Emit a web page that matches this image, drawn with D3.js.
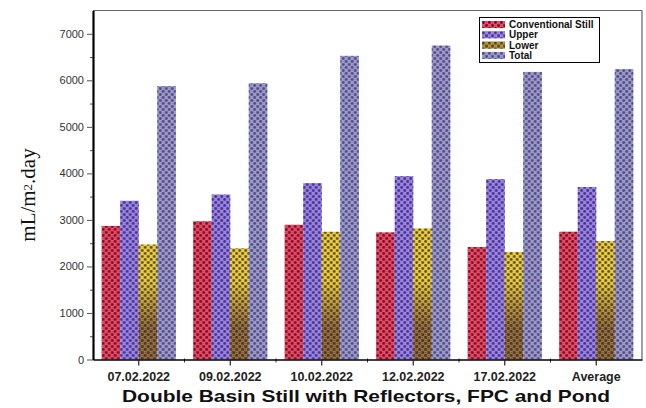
<!DOCTYPE html>
<html>
<head>
<meta charset="utf-8">
<script src="https://cdn.jsdelivr.net/npm/d3@7"></script>
<style>
  body { margin: 0; background: #fff; }
  svg { display: block; font-family: "Liberation Sans", Arial, sans-serif; }
</style>
</head>
<body>
<div id="chart"></div>
<script>
// dados do gráfico
const categorias = ["07.02.2022", "09.02.2022", "10.02.2022", "12.02.2022", "17.02.2022", "Average"];
const series = ["Conventional Still", "Upper", "Lower", "Total"];
const conventional = [2870, 2970, 2895, 2730, 2415, 2745];
const upper = [3410, 3545, 3790, 3940, 3875, 3705];
const lower = [2470, 2390, 2745, 2815, 2310, 2545];
const total = [5875, 5935, 6525, 6745, 6180, 6240];
const yTicks = [0, 1000, 2000, 3000, 4000, 5000, 6000, 7000];

const valores = [conventional, upper, lower, total];
const data = categorias.map((c, i) => ({
    cat: c,
    vals: series.map((s, j) => ({ serie: s, valor: valores[j][i] }))
}));

const W = 646, H = 408;
const margin = { top: 10.5, right: 4, bottom: 48.5, left: 93 };

const svg = d3.select("#chart")
    .append("svg")
    .attr("width", W)
    .attr("height", H);

// cores: base + pontos
const cores = {
    "Conventional Still": { base: "#e8374f", dot: "#4a0c2a", ring: "#ff7a8a" },
    "Upper": { base: "#9478d6", dot: "#2c2280", ring: "#b8a0f0" },
    "Lower": { base: "url(#gradLower)", dot: "#4a2c18", ring: "#f0e070" },
    "Total": { base: "#6f9bd8", dot: "#8a1e3e", ring: "#a6c4f0" }
};

const y = d3.scaleLinear()
    .domain([0, 7500])
    .range([H - margin.bottom, margin.top]);

const x = d3.scaleBand()
    .domain(categorias)
    .range([margin.left, W - margin.right])
    .paddingInner(0.19)
    .paddingOuter(0.095);

const xs = d3.scaleBand()
    .domain(series)
    .range([0, x.bandwidth()]);

const defs = svg.append("defs");

// gradiente amarelo -> castanho
const grad = defs.append("linearGradient")
    .attr("id", "gradLower")
    .attr("gradientUnits", "userSpaceOnUse")
    .attr("x1", 0).attr("x2", 0)
    .attr("y1", y(1700)).attr("y2", y(700));
grad.append("stop").attr("offset", "0%").attr("stop-color", "#e2ca34");
grad.append("stop").attr("offset", "100%").attr("stop-color", "#6e4b33");

// padrões de pontos
series.forEach((s, i) => {
    const p = defs.append("pattern")
        .attr("id", "pat" + i)
        .attr("patternUnits", "userSpaceOnUse")
        .attr("width", 6).attr("height", 6);
    [[1.5, 1.5], [4.5, 4.5]].forEach(c => {
        p.append("circle").attr("cx", c[0]).attr("cy", c[1]).attr("r", 1.4)
            .attr("fill", cores[s].dot).attr("opacity", 0.85);
    });
    [[4.5, 1.5], [1.5, 4.5]].forEach(c => {
        p.append("circle").attr("cx", c[0]).attr("cy", c[1]).attr("r", 1.3)
            .attr("fill", "none").attr("stroke", cores[s].ring).attr("stroke-width", 0.6).attr("opacity", 0.7);
    });
});

// barras
const grupos = svg.selectAll(".grupo")
    .data(data)
    .enter()
    .append("g")
    .attr("class", "grupo")
    .attr("transform", d => `translate(${x(d.cat)},0)`);

grupos.selectAll(".bar")
    .data(d => d.vals)
    .enter()
    .append("rect")
    .attr("class", "bar")
    .attr("x", d => xs(d.serie))
    .attr("y", d => y(d.valor))
    .attr("width", xs.bandwidth())
    .attr("height", d => y(0) - y(d.valor))
    .attr("fill", d => cores[d.serie].base);

grupos.selectAll(".dots")
    .data(d => d.vals)
    .enter()
    .append("rect")
    .attr("class", "dots")
    .attr("x", d => xs(d.serie))
    .attr("y", d => y(d.valor))
    .attr("width", xs.bandwidth())
    .attr("height", d => y(0) - y(d.valor))
    .attr("fill", d => "url(#pat" + series.indexOf(d.serie) + ")");

// moldura (topo e direita)
svg.append("line")
    .attr("x1", margin.left).attr("x2", W - margin.right)
    .attr("y1", margin.top).attr("y2", margin.top)
    .attr("stroke", "#666").attr("stroke-width", 1);
svg.append("line")
    .attr("x1", W - margin.right).attr("x2", W - margin.right)
    .attr("y1", margin.top).attr("y2", y(0))
    .attr("stroke", "#444").attr("stroke-width", 1);

// eixo Y
const yMinor = d3.range(500, 7500, 1000);
svg.append("g")
    .attr("transform", `translate(${margin.left},0)`)
    .call(d3.axisLeft(y).tickValues(yMinor).tickSize(3).tickFormat(""))
    .call(g => g.select(".domain").remove())
    .selectAll("line").attr("stroke", "#555");

const yAxis = svg.append("g")
    .attr("transform", `translate(${margin.left},0)`)
    .call(d3.axisLeft(y).tickValues(yTicks).tickFormat(d3.format("d")).tickSize(6).tickPadding(3).tickSizeOuter(0));
yAxis.select(".domain").attr("stroke", "#000").attr("stroke-width", 2.2);
yAxis.selectAll(".tick line").attr("stroke", "#555");
yAxis.selectAll("text")
    .attr("font-size", "11px")
    .attr("fill", "#333")
    .attr("font-family", "Liberation Sans, Arial, sans-serif");

// eixo X
const xMinor = categorias.slice(1).map(c => x(c) - x.step() * x.paddingInner() / 2);
svg.append("g")
    .attr("transform", `translate(0,${y(0)})`)
    .selectAll("line")
    .data(xMinor)
    .enter()
    .append("line")
    .attr("x1", d => d).attr("x2", d => d)
    .attr("y1", -1).attr("y2", 3)
    .attr("stroke", "#333");

const xAxis = svg.append("g")
    .attr("transform", `translate(0,${y(0)})`)
    .call(d3.axisBottom(x).tickSize(6).tickPadding(7).tickSizeOuter(0));
xAxis.select(".domain").attr("stroke", "#000").attr("stroke-width", 1.5);
xAxis.selectAll(".tick line").attr("stroke", "#222").attr("stroke-width", 1.2);
xAxis.selectAll("text")
    .attr("font-size", "12.5px")
    .attr("font-weight", "bold")
    .attr("fill", "#222")
    .attr("font-family", "Liberation Sans, Arial, sans-serif");

// títulos
svg.append("text")
    .attr("x", 366)
    .attr("y", 402)
    .attr("text-anchor", "middle")
    .attr("font-size", "17px")
    .attr("font-weight", "bold")
    .attr("fill", "#111")
    .attr("textLength", 488)
    .attr("lengthAdjust", "spacingAndGlyphs")
    .text("Double Basin Still with Reflectors, FPC and Pond");

const yl = svg.append("text")
    .attr("transform", "translate(35,195) rotate(-90)")
    .attr("text-anchor", "middle")
    .attr("font-family", "Liberation Serif, Times New Roman, serif")
    .attr("font-size", "21px")
    .attr("fill", "#111");
yl.append("tspan").text("mL/m");
yl.append("tspan").attr("font-size", "13px").attr("dy", -3).text("2");
yl.append("tspan").attr("dy", 3).text(".day");

// legenda
const leg = svg.append("g").attr("transform", "translate(479.5,17.5)");
leg.append("rect")
    .attr("width", 120).attr("height", 45)
    .attr("fill", "#fff").attr("stroke", "#000").attr("stroke-width", 1);
series.forEach((s, i) => {
    const row = leg.append("g").attr("transform", `translate(2.5,${3.5 + i * 10.3})`);
    row.append("rect").attr("width", 23).attr("height", 7).attr("fill", cores[s].base === "url(#gradLower)" ? "#9a7a34" : cores[s].base);
    row.append("rect").attr("width", 23).attr("height", 7).attr("fill", "url(#pat" + i + ")");
    row.append("text")
        .attr("x", 27).attr("y", 7)
        .attr("font-size", "10px")
        .attr("font-weight", "bold")
        .attr("fill", "#111")
        .text(s);
});
</script>
</body>
</html>
